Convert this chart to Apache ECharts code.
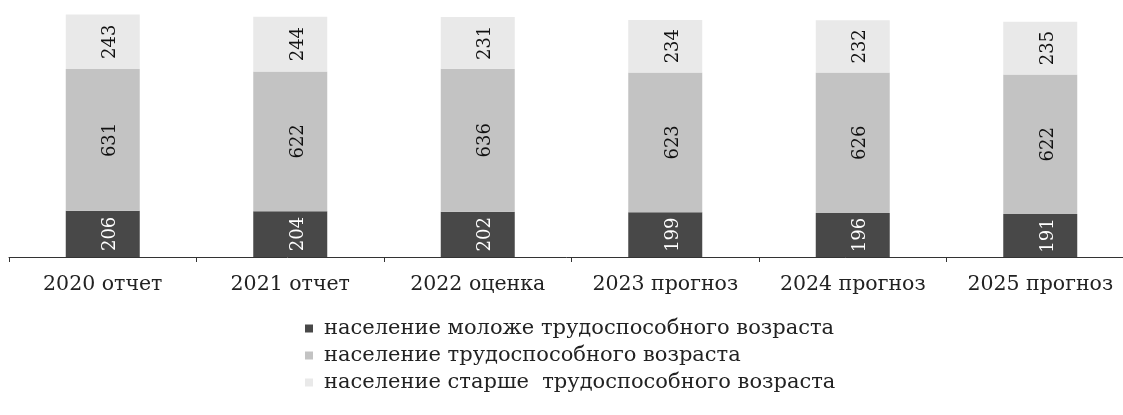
<!DOCTYPE html>
<html>
<head>
<meta charset="utf-8">
<script src="https://cdn.jsdelivr.net/npm/echarts@6/dist/echarts.min.js"></script>
<style>
html,body{margin:0;padding:0;background:#fff;}
#c{width:1123px;height:415px;}
</style>
</head>
<body>
<div id="c"></div>
<script>
var categories = ['2020 отчет', '2021 отчет', '2022 оценка', '2023 прогноз', '2024 прогноз', '2025 прогноз'];
var seriesNames = ['население моложе трудоспособного возраста', 'население трудоспособного возраста', 'население старше  трудоспособного возраста'];
var younger = [206, 204, 202, 199, 196, 191];
var working = [631, 622, 636, 623, 626, 622];
var older = [243, 244, 231, 234, 232, 235];

var font = 'DejaVu Serif';
var chart = echarts.init(document.getElementById('c'), null, {renderer: 'canvas'});

function mk(name, data, color, labelColor) {
  return {
    name: name,
    type: 'bar',
    stack: 'total',
    data: data,
    barWidth: 74,
    itemStyle: {color: color},
    label: {
      show: true,
      position: 'inside',
      rotate: 90,
      offset: [0, 8],
      color: labelColor,
      fontFamily: font,
      fontSize: 18
    }
  };
}

chart.setOption({
  animation: false,
  backgroundColor: '#fff',
  textStyle: {fontFamily: font},
  grid: {left: 9, width: 1125, top: 10, bottom: 158, containLabel: false, outerBoundsMode: 'none'},
  legend: {
    orient: 'vertical',
    left: 300,
    top: 313,
    icon: 'rect',
    itemWidth: 8,
    itemHeight: 8,
    itemGap: 6,
    textStyle: {fontFamily: font, fontSize: 21, color: '#222', padding: [0, 0, 0, 6]},
    data: seriesNames
  },
  xAxis: {
    type: 'category',
    data: categories,
    axisLine: {lineStyle: {color: '#333', width: 1}},
    axisTick: {show: true, length: 5, lineStyle: {color: '#333'}},
    axisLabel: {fontFamily: font, fontSize: 20.5, color: '#222', margin: 17, interval: 0, hideOverlap: false}
  },
  yAxis: {
    type: 'value',
    min: 0,
    max: 1100,
    show: false,
    splitLine: {show: false}
  },
  series: [
    mk(seriesNames[0], younger, '#484848', '#fff'),
    mk(seriesNames[1], working, '#c3c3c3', '#111'),
    mk(seriesNames[2], older, '#e9e9e9', '#111')
  ]
});
</script>
</body>
</html>
